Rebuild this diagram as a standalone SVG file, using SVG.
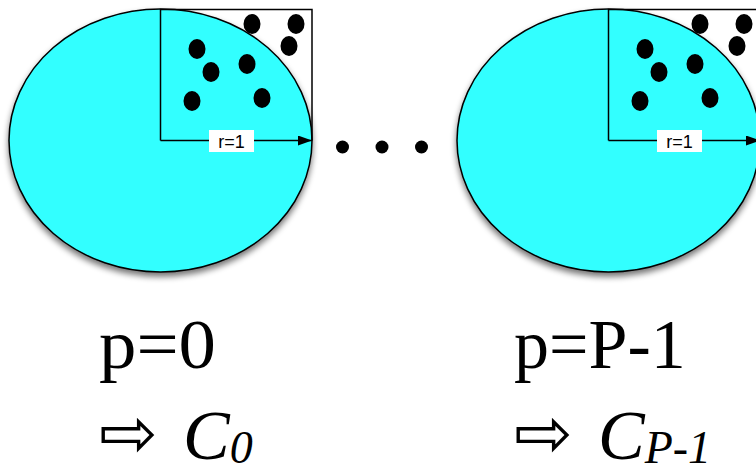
<svg xmlns="http://www.w3.org/2000/svg" width="756" height="474" viewBox="0 0 756 474">
  <defs>
    <filter id="shadow" x="-10%" y="-10%" width="120%" height="125%">
      <feGaussianBlur in="SourceAlpha" stdDeviation="3"/>
      <feOffset dx="0" dy="4" result="b"/>
      <feComponentTransfer><feFuncA type="linear" slope="0.55"/></feComponentTransfer>
      <feMerge><feMergeNode/><feMergeNode in="SourceGraphic"/></feMerge>
    </filter>
    <marker id="arrow" viewBox="0 0 14 10" refX="14" refY="5" markerWidth="14" markerHeight="10" markerUnits="userSpaceOnUse" orient="auto">
      <path d="M0,0 L14,5 L0,10 Z" fill="#000"/>
    </marker>
  </defs>
  <style>
    .disk { fill: #33ffff; stroke: #000; stroke-width: 1.5; }
    .quad { fill: none; stroke: #000; stroke-width: 1.5; }
    .dot { fill: #000; }
    .lblbox { fill: #fff; stroke: none; }
    .lbl { font-family: "Liberation Sans", Arial, sans-serif; font-size: 18px; fill: #000; text-anchor: middle; }
    .big { font-family: "Liberation Serif", "Times New Roman", serif; font-size: 70px; fill: #000; }
    .it { font-family: "Liberation Serif", "Times New Roman", serif; font-style: italic; fill: #000; }
    .sym { font-family: "DejaVu Sans", sans-serif; font-size: 70px; fill: #000; }
    .conn { fill: none; stroke: #000; stroke-width: 1.5; marker-end: url(#arrow); }
  </style>

  <g id="node-p0">
    <ellipse class="disk" cx="160.5" cy="140.5" rx="151.5" ry="131.5" filter="url(#shadow)"/>
    <path class="quad" d="M160.5,140.5 V9.5 H312 V140.5"/>
    <ellipse class="dot" cx="252" cy="24" rx="8.5" ry="10"/>
    <ellipse class="dot" cx="296" cy="24" rx="8.5" ry="10"/>
    <ellipse class="dot" cx="289" cy="46" rx="8.5" ry="10"/>
    <ellipse class="dot" cx="197" cy="49" rx="8.5" ry="10"/>
    <ellipse class="dot" cx="211" cy="72" rx="8.5" ry="10"/>
    <ellipse class="dot" cx="247" cy="64" rx="8.5" ry="10"/>
    <ellipse class="dot" cx="192" cy="101" rx="8.5" ry="10"/>
    <ellipse class="dot" cx="262" cy="98" rx="8.5" ry="10"/>
  </g>

  <g id="node-pP1">
    <ellipse class="disk" cx="608.5" cy="140.5" rx="151.5" ry="131.5" filter="url(#shadow)"/>
    <path class="quad" d="M608.5,140.5 V9.5 H760 V140.5"/>
    <ellipse class="dot" cx="700" cy="24" rx="8.5" ry="10"/>
    <ellipse class="dot" cx="744" cy="24" rx="8.5" ry="10"/>
    <ellipse class="dot" cx="737" cy="46" rx="8.5" ry="10"/>
    <ellipse class="dot" cx="645" cy="49" rx="8.5" ry="10"/>
    <ellipse class="dot" cx="659" cy="72" rx="8.5" ry="10"/>
    <ellipse class="dot" cx="695" cy="64" rx="8.5" ry="10"/>
    <ellipse class="dot" cx="640" cy="101" rx="8.5" ry="10"/>
    <ellipse class="dot" cx="710" cy="98" rx="8.5" ry="10"/>
  </g>

  <g id="connectors">
    <line class="conn" x1="160.5" y1="140.5" x2="312" y2="140.5"/>
    <line class="conn" x1="608.5" y1="140.5" x2="760" y2="140.5"/>
  </g>

  <g id="radius-labels">
    <rect class="lblbox" x="209" y="130" width="45" height="22"/>
    <text class="lbl" x="231.5" y="147.5">r=1</text>
    <rect class="lblbox" x="657" y="130" width="45" height="22"/>
    <text class="lbl" x="679.5" y="147.5">r=1</text>
  </g>

  <g id="ellipsis">
    <circle class="dot" cx="342.5" cy="147" r="6.5"/>
    <circle class="dot" cx="382" cy="147" r="6.5"/>
    <circle class="dot" cx="421.5" cy="147" r="6.5"/>
  </g>

  <g id="label-p0">
    <text class="big" x="99" y="368" textLength="117" lengthAdjust="spacingAndGlyphs">p=0</text>
    <text class="sym" x="99" y="457">⇨</text>
    <text class="it" x="183" y="458.5" font-size="70">C<tspan font-size="46" dy="4.5">0</tspan></text>
  </g>

  <g id="label-pP1">
    <text class="big" x="514" y="368">p=P-1</text>
    <text class="sym" x="514" y="457">⇨</text>
    <text class="it" x="598" y="458.5" font-size="70">C<tspan font-size="46" dy="4.5">P-1</tspan></text>
  </g>
</svg>
